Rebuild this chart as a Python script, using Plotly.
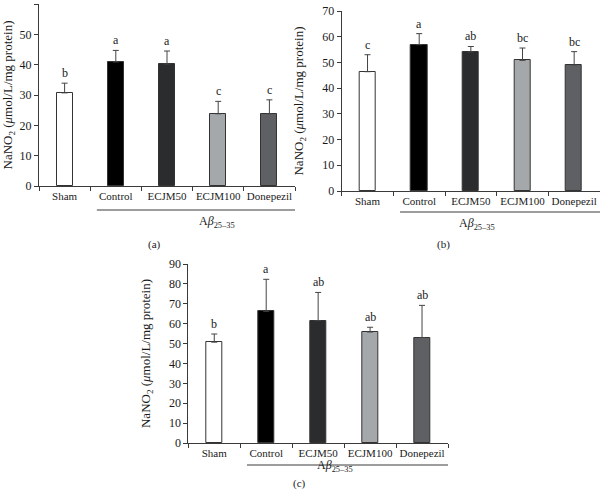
import plotly.graph_objects as go

categories = ["Sham", "Control", "ECJM50", "ECJM100", "Donepezil"]
bar_colors = ["#ffffff", "#000000", "#2b2c2e", "#a5a8ab", "#5f6064"]

# Panel (a)
a_means = [30.7, 40.9, 40.2, 23.8, 23.8]
a_err_top = [33.9, 44.7, 44.5, 27.9, 28.4]
a_letters = ["b", "a", "a", "c", "c"]
# Panel (b)
b_means = [46.4, 56.9, 54.1, 50.8, 49.0]
b_err_top = [53.0, 61.2, 56.2, 55.6, 54.2]
b_letters = ["c", "a", "ab", "bc", "bc"]
# Panel (c)
c_means = [50.7, 66.2, 61.5, 55.8, 53.0]
c_err_top = [54.8, 82.3, 75.7, 58.2, 69.2]
c_letters = ["b", "a", "ab", "ab", "ab"]

W, H = 602, 502
FONT = "Liberation Serif"
AX = "#3a3a3a"
TXT = "#1a1a1a"

def px(x):
    return x / W

def py(y):
    return 1 - y / H

panels = [
    dict(means=a_means, top=a_err_top, letters=a_letters, ymax=60, dtick=10,
         xd=(39, 295), yd=(186, 4), cap="(a)", capxy=(146, 244), abxy=(197, 222), line_y=210),
    dict(means=b_means, top=b_err_top, letters=b_letters, ymax=70, dtick=10,
         xd=(341.7, 600), yd=(191, 11), cap="(b)", capxy=(452, 244), abxy=(497, 224), line_y=212),
    dict(means=c_means, top=c_err_top, letters=c_letters, ymax=90, dtick=10,
         xd=(188.3, 448), yd=(443, 264), cap="(c)", capxy=(299, 492), abxy=(335, 476), line_y=465),
]

fig = go.Figure()
annotations = []
shapes = []
for i, p in enumerate(panels):
    n = "" if i == 0 else str(i + 1)
    xa, ya = "x" + n, "y" + n
    fig.add_trace(go.Bar(
        x=categories, y=p["means"], xaxis=xa, yaxis=ya, width=0.31,
        marker=dict(color=bar_colors, line=dict(color="#333333", width=1)),
        error_y=dict(type="data", symmetric=False,
                     array=[t - m for t, m in zip(p["top"], p["means"])],
                     arrayminus=[0] * len(p["means"]),
                     color="#444444", thickness=1, width=3),
        showlegend=False, hoverinfo="skip"))
    for cat, t, lab in zip(categories, p["top"], p["letters"]):
        annotations.append(dict(x=cat, y=t, xref=xa, yref=ya, text=lab, showarrow=False,
                                yanchor="bottom", yshift=1,
                                font=dict(family=FONT, size=12, color=TXT)))
    fig.layout["xaxis" + n] = dict(
        domain=[px(p["xd"][0]), px(p["xd"][1])], anchor=ya, type="category",
        range=[-0.5, 4.5], showline=True, linecolor=AX, linewidth=1, automargin=False,
        ticks="outside", tickson="boundaries", ticklen=4, tickcolor=AX, tickangle=0,
        ticklabelstandoff=0,
        tickfont=dict(family=FONT, size=11, color=TXT), showgrid=False, zeroline=False)
    fig.layout["yaxis" + n] = dict(
        domain=[py(p["yd"][0]), py(p["yd"][1])], anchor=xa, automargin=False,
        range=[0, p["ymax"]], dtick=p["dtick"], showline=True, linecolor=AX, linewidth=1,
        ticks="outside", ticklen=4, tickcolor=AX, showgrid=False, zeroline=False,
        tickfont=dict(family=FONT, size=12, color=TXT),
        title=dict(text="NaNO<sub>2</sub> (<i>μ</i>mol/L/mg protein)",
                   font=dict(family=FONT, size=13, color=TXT)))
    # A-beta group line
    x0 = p["xd"][0] + (p["xd"][1] - p["xd"][0]) * (1.13 / 5)
    shapes.append(dict(type="line", xref="paper", yref="paper",
                       x0=px(x0), x1=px(p["xd"][1]), y0=py(p["line_y"]), y1=py(p["line_y"]),
                       line=dict(color=AX, width=1)))
    annotations.append(dict(x=px(p["abxy"][0]), y=py(p["abxy"][1]), xref="paper", yref="paper",
                            text="A<i>β</i><sub>25–35</sub>", showarrow=False,
                            font=dict(family=FONT, size=12, color=TXT)))
    annotations.append(dict(x=px(p["capxy"][0]), y=py(p["capxy"][1]), xref="paper", yref="paper",
                            text=p["cap"], showarrow=False,
                            font=dict(family=FONT, size=11, color=TXT)))

fig.update_layout(width=W, height=H, margin=dict(l=0, r=0, t=0, b=0, autoexpand=False),
                  paper_bgcolor="white", plot_bgcolor="white",
                  annotations=annotations, shapes=shapes, bargap=0)
fig.write_html("out.html", config={"displayModeBar": False},
               post_script="document.body.style.margin='0';document.body.style.overflow='hidden';")
